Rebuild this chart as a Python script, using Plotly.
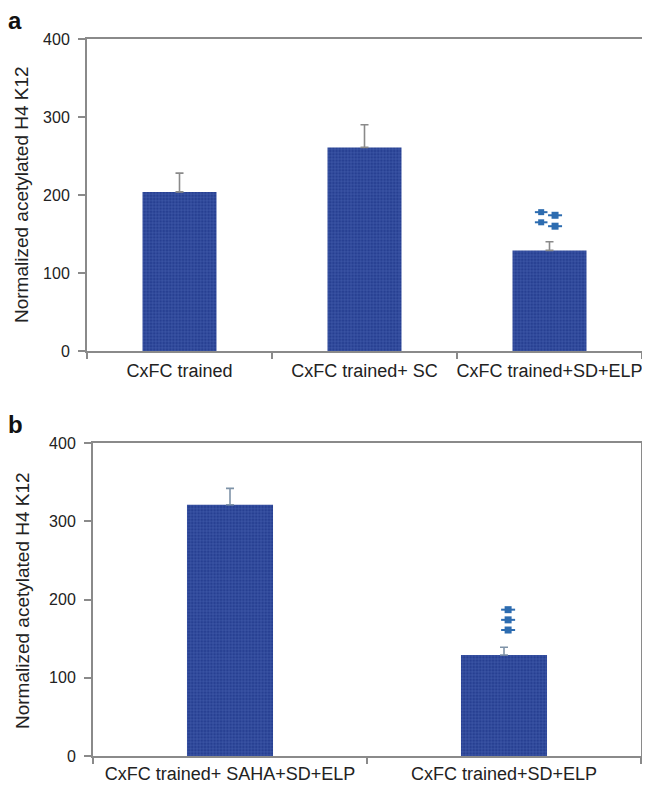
import plotly.graph_objects as go

# Panel a data
cats_a = ["CxFC trained", "CxFC trained+ SC", "CxFC trained+SD+ELP"]
vals_a = [204, 261, 129]
err_a = [24, 29, 11]

# Panel b data
cats_b = ["CxFC trained+ SAHA+SD+ELP", "CxFC trained+SD+ELP"]
vals_b = [321, 129]
err_b = [21, 10]

# significance marks (value heights of the small symbols above bars)
sig_a_left = [178, 165]
sig_a_right = [174, 160]
sig_b = [187, 174, 161]

y_ticks = [0, 100, 200, 300, 400]
y_title = "Normalized acetylated H4 K12"

FONT = "Liberation Sans, Arial, sans-serif"
AX = "#8a8a8a"
AX_B = "#7f93a8"
BAR_BG = "#273f92"
BAR_FG = "#6d88d0"
STAR = "#2d6cb0"

W, H = 650, 797
OFF = 8  # page body margin


def px(x):
    return (x - OFF) / W


def py(y):
    return 1 - (y - OFF) / H


idx_a = list(range(len(cats_a)))
idx_b = list(range(len(cats_b)))


def bar(x, y, e, xa, ya, width, ecol):
    return go.Bar(
        x=x, y=y, xaxis=xa, yaxis=ya, width=width,
        marker=dict(color=BAR_BG, line=dict(width=0),
                    pattern=dict(shape="+", size=3.2, solidity=0.25,
                                 fgcolor=BAR_FG, bgcolor=BAR_BG, fgopacity=0.55)),
        error_y=dict(type="data", array=e, symmetric=False, arrayminus=[0] * len(e),
                     color=ecol, thickness=1.6, width=4),
        showlegend=False, hoverinfo="skip",
    )


fig = go.Figure()
fig.add_trace(bar(idx_a, vals_a, err_a, "x", "y", 0.4, AX))
fig.add_trace(bar(idx_b, vals_b, err_b, "x2", "y2", 0.314, AX_B))


def sig(xs, ys, xa, ya, s):
    fig.add_trace(go.Scatter(x=xs, y=ys, mode="markers", xaxis=xa, yaxis=ya,
                             marker=dict(symbol="line-ew-open", size=s + 3, color=STAR,
                                         line=dict(width=2, color=STAR)),
                             showlegend=False, hoverinfo="skip"))
    fig.add_trace(go.Scatter(x=xs, y=ys, mode="markers", xaxis=xa, yaxis=ya,
                             marker=dict(symbol="square", size=s, color=STAR, line=dict(width=0)),
                             showlegend=False, hoverinfo="skip"))


sig([idx_a[2] - 0.045] * len(sig_a_left), sig_a_left, "x", "y", 6)
sig([idx_a[2] + 0.03] * len(sig_a_right), sig_a_right, "x", "y", 7)
sig([idx_b[1] + 0.015] * len(sig_b), sig_b, "x2", "y2", 7)


def xaxis(n, labels, domain, anchor, standoff):
    return dict(domain=domain, anchor=anchor, range=[-0.5, n - 0.5],
                tickvals=list(range(n)), ticktext=labels, ticks="", ticklen=0,
                showline=True, linecolor=AX, linewidth=2, mirror=True,
                tickfont=dict(size=18, color="#222", family=FONT),
                ticklabelstandoff=standoff,
                minor=dict(tickvals=[i - 0.5 for i in range(n + 1)], ticks="outside",
                           ticklen=6, tickcolor=AX, tickwidth=1.5, showgrid=False),
                showgrid=False, zeroline=False, fixedrange=True, automargin=False)


def yaxis(domain, anchor):
    return dict(domain=domain, anchor=anchor, range=[0, 400], tickvals=y_ticks,
                showline=True, linecolor=AX, linewidth=2, mirror=True,
                ticks="outside", ticklen=7, tickcolor=AX, tickwidth=2,
                tickfont=dict(size=16, color="#222", family=FONT), ticklabelstandoff=5,
                showgrid=False, zeroline=False, fixedrange=True, automargin=False)


fig.update_layout(
    width=W, height=H,
    margin=dict(l=0, r=0, t=0, b=0, autoexpand=False),
    paper_bgcolor="white", plot_bgcolor="white",
    font=dict(family=FONT, color="#222"),
    xaxis=xaxis(len(cats_a), cats_a, [px(87), px(642)], "y", 2),
    yaxis=yaxis([py(351), py(39)], "x"),
    xaxis2=xaxis(len(cats_b), cats_b, [px(93), px(641)], "y2", 0),
    yaxis2=yaxis([py(756), py(443)], "x2"),
    annotations=[
        dict(text="<b>a</b>", x=px(15), y=py(21), xref="paper", yref="paper",
             xanchor="center", yanchor="middle", showarrow=False,
             font=dict(size=24, color="#111", family=FONT)),
        dict(text="<b>b</b>", x=px(15), y=py(424), xref="paper", yref="paper",
             xanchor="center", yanchor="middle", showarrow=False,
             font=dict(size=24, color="#111", family=FONT)),
        dict(text=y_title, x=px(22), y=py(195), xref="paper", yref="paper", textangle=-90,
             xanchor="center", yanchor="middle", showarrow=False,
             font=dict(size=19, color="#222", family=FONT)),
        dict(text=y_title, x=px(22), y=py(601), xref="paper", yref="paper", textangle=-90,
             xanchor="center", yanchor="middle", showarrow=False,
             font=dict(size=19, color="#222", family=FONT)),
    ],
)

fig.write_html("out.html")
